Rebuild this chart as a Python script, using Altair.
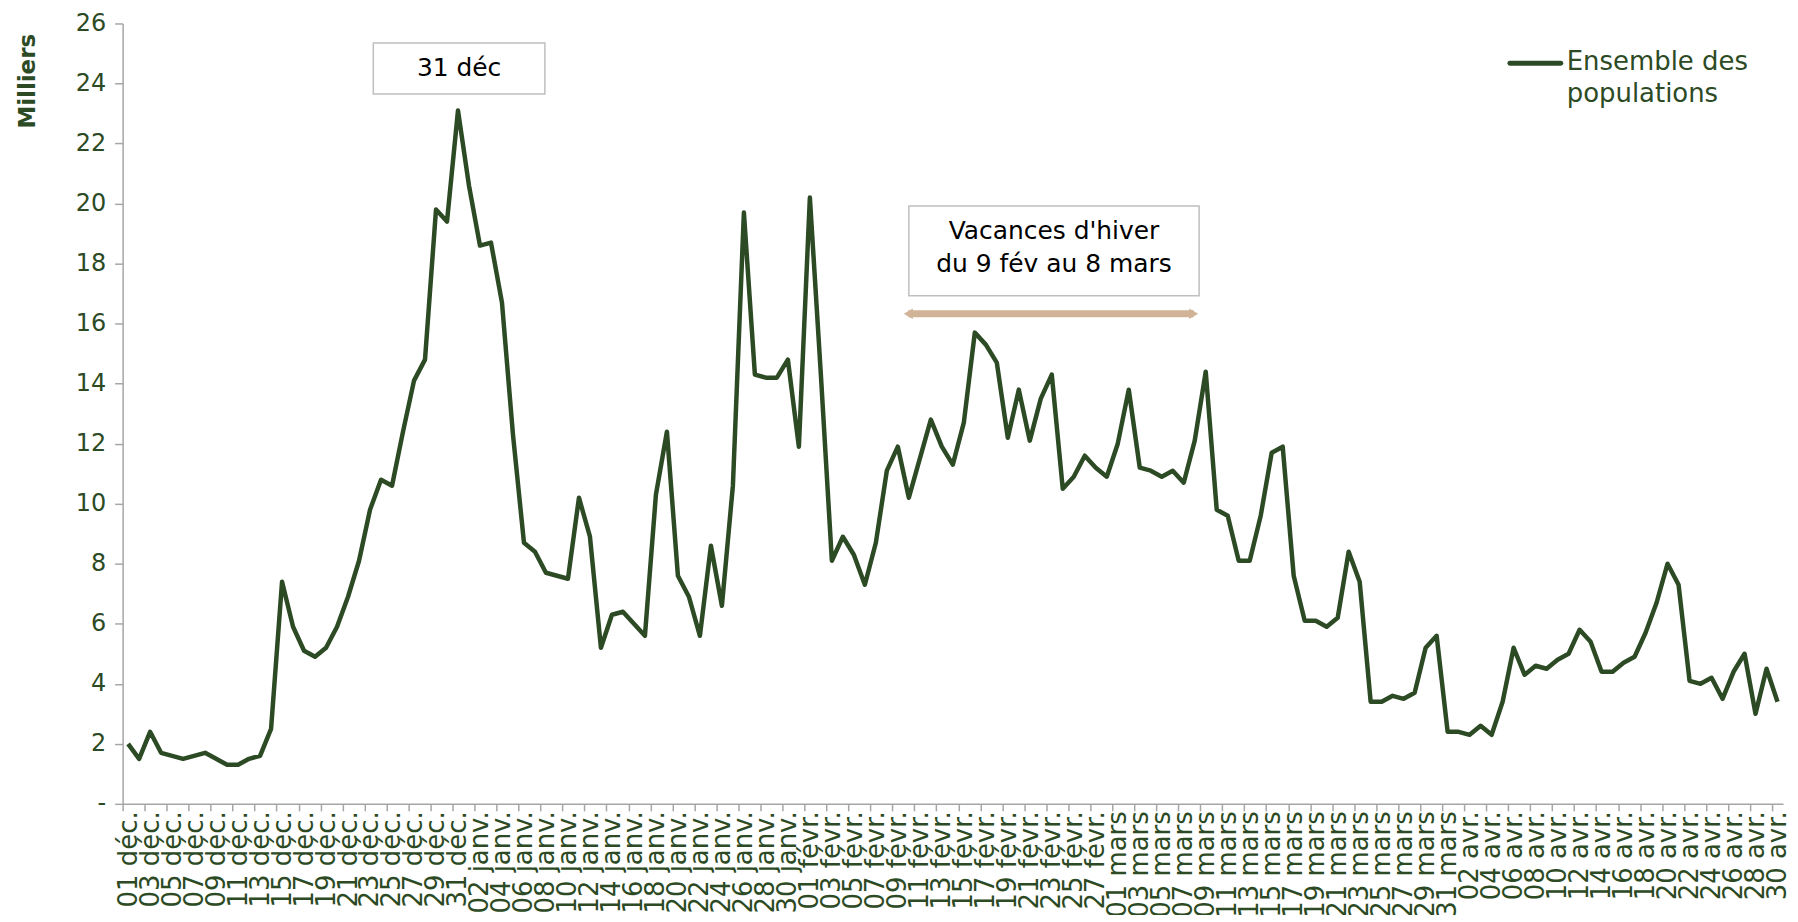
import altair as alt
import pandas as pd

# ---------------- data ----------------
MONTHS = ["déc.", "janv.", "févr.", "mars", "avr."]
MONTH_DAYS = [31, 31, 28, 31, 30]
DAY_LABELS = [f"{d:02d} {m}" for m, n in zip(MONTHS, MONTH_DAYS) for d in range(1, n + 1)]

VALUES = [
    2.0, 1.5, 2.4, 1.7, 1.6, 1.5, 1.6, 1.7, 1.5, 1.3, 1.3, 1.5, 1.6, 2.5, 7.4, 5.9,
    5.1, 4.9, 5.2, 5.9, 6.9, 8.1, 9.8, 10.8, 10.6, 12.4, 14.1, 14.8, 19.8, 19.4, 23.1,
    20.6, 18.6, 18.7, 16.7, 12.3, 8.7, 8.4, 7.7, 7.6, 7.5, 10.2, 8.9, 5.2, 6.3, 6.4,
    6.0, 5.6, 10.3, 12.4, 7.6, 6.9, 5.6, 8.6, 6.6, 10.6, 19.7, 14.3, 14.2, 14.2, 14.8,
    11.9, 20.2, 14.3, 8.1, 8.9, 8.3, 7.3, 8.7, 11.1, 11.9, 10.2, 11.5, 12.8, 11.9, 11.3,
    12.7, 15.7, 15.3, 14.7, 12.2, 13.8, 12.1, 13.5, 14.3, 10.5, 10.9, 11.6, 11.2, 10.9,
    12.0, 13.8, 11.2, 11.1, 10.9, 11.1, 10.7, 12.1, 14.4, 9.8, 9.6, 8.1, 8.1, 9.6, 11.7,
    11.9, 7.6, 6.1, 6.1, 5.9, 6.2, 8.4, 7.4, 3.4, 3.4, 3.6, 3.5, 3.7, 5.2, 5.6, 2.4,
    2.4, 2.3, 2.6, 2.3, 3.4, 5.2, 4.3, 4.6, 4.5, 4.8, 5.0, 5.8, 5.4, 4.4, 4.4, 4.7,
    4.9, 5.7, 6.7, 8.0, 7.3, 4.1, 4.0, 4.2, 3.5, 4.4, 5.0, 3.0, 4.5, 3.4,
]
SERIES_NAME = ["Ensemble des", "populations"]
Y_TICKS = list(range(0, 27, 2))
Y_TITLE = "Milliers"

# annotations (data coordinates: day index / thousands)
BOX_X0 = [22.3, 71.0]
BOX_X1 = [37.9, 97.4]
BOX_Y0 = [23.65, 16.93]
BOX_Y1 = [25.35, 19.92]
NOTE_TEXT = ["31 déc", "Vacances d'hiver", "du 9 fév au 8 mars"]
NOTE_X = [30.1, 84.2, 84.2]
NOTE_Y = [24.5, 19.08, 17.98]
ARROW_X = [70.95, 96.9]
ARROW_Y = 16.33

GREEN = "#2C4A24"
GREY = "#A6A6A6"
TAN = "#D1B497"
FONT = "DejaVu Sans"
NOTE_FONT = "DejaVu Sans"

N = len(VALUES)
W, H = 1666, 783

df = pd.DataFrame({"idx": list(range(N)), "jour": DAY_LABELS, "val": VALUES})
boxes = pd.DataFrame({"x0": BOX_X0, "x1": BOX_X1, "y0": BOX_Y0, "y1": BOX_Y1})
notes = pd.DataFrame({"x": NOTE_X, "y": NOTE_Y, "t": NOTE_TEXT})
arrow = pd.DataFrame({"x0": [ARROW_X[0]], "x1": [ARROW_X[1]], "y": [ARROW_Y]})
heads = pd.DataFrame({"x": ARROW_X, "y": [ARROW_Y, ARROW_Y],
                      "s": ["triangle-left", "triangle-right"]})

xscale = alt.Scale(domain=[-0.5, N - 0.5], nice=False, zero=False)
yscale = alt.Scale(domain=[0, 26], nice=False, zero=True)

label_array = "[" + ",".join("'" + l + "'" for l in DAY_LABELS) + "]"

line = alt.Chart(df).mark_line(color=GREEN, strokeWidth=4.5, strokeJoin="round").encode(
    x=alt.X("idx:Q", scale=xscale, title=None,
            axis=alt.Axis(values=list(range(0, N, 2)), labelExpr=label_array + "[datum.value]",
                          labelAngle=270, labelFont=FONT, labelFontSize=26,
                          labelColor=GREEN, labelPadding=7, ticks=False,
                          domain=False, grid=False, orient="bottom",
                          labelOverlap=False, labelBound=False, labelFlush=False)),
    y=alt.Y("val:Q", scale=yscale,
            axis=alt.Axis(values=Y_TICKS, grid=False, title=Y_TITLE, orient="left",
                          labelExpr="datum.value == 0 ? '-' : datum.label",
                          labelFont=FONT, labelFontSize=24, labelColor=GREEN,
                          labelPadding=9, tickSize=8, tickColor=GREY, tickWidth=1.5,
                          domainColor=GREY, domainWidth=1.5,
                          titleFont=FONT, titleFontSize=23, titleFontWeight="bold",
                          titleColor=GREEN, titleAngle=270, titleAlign="right",
                          titleBaseline="middle", titleX=-95, titleY=10)),
)

# tick-only x axis (ticks at category boundaries every 2 days)
tick_layer = alt.Chart(df).mark_line(opacity=0).encode(
    x=alt.X("idx:Q", scale=xscale, title=None,
            axis=alt.Axis(values=[k - 0.5 for k in range(0, N, 2)], labels=False,
                          tickSize=7, tickColor=GREY, tickWidth=1.5,
                          domain=True, domainColor=GREY, domainWidth=1.5,
                          grid=False, orient="bottom")),
    y=alt.Y("val:Q", scale=yscale, axis=None),
)

box_layer = alt.Chart(boxes).mark_rect(fill="white", stroke="#BFBFBF", strokeWidth=1.5).encode(
    x=alt.X("x0:Q", scale=xscale, axis=None), x2="x1:Q",
    y=alt.Y("y0:Q", scale=yscale, axis=None), y2="y1:Q",
)

note_layer = alt.Chart(notes).mark_text(font=NOTE_FONT, fontSize=25, color="black",
                                        align="center", baseline="middle").encode(
    x=alt.X("x:Q", scale=xscale, axis=None),
    y=alt.Y("y:Q", scale=yscale, axis=None),
    text="t:N",
)

arrow_layer = alt.Chart(arrow).mark_rule(color=TAN, strokeWidth=7).encode(
    x=alt.X("x0:Q", scale=xscale, axis=None), x2="x1:Q",
    y=alt.Y("y:Q", scale=yscale, axis=None),
)

head_layer = alt.Chart(heads).mark_point(filled=True, color=TAN, opacity=1, size=110).encode(
    x=alt.X("x:Q", scale=xscale, axis=None),
    y=alt.Y("y:Q", scale=yscale, axis=None),
    shape=alt.Shape("s:N", scale=None, legend=None),
)

leg = pd.DataFrame({"name": [" ".join(SERIES_NAME)]})
leg_line = alt.Chart(leg).mark_rule(color=GREEN, strokeWidth=5, strokeCap="round").encode(
    x=alt.value(1392), x2=alt.value(1443), y=alt.value(40),
)
leg_text = alt.Chart(leg).mark_text(font=FONT, fontSize=26, color=GREEN, align="left",
                                    baseline="top", lineBreak="|", lineHeight=32).encode(
    x=alt.value(1449), y=alt.value(26),
    text=alt.value("|".join(SERIES_NAME)),
)

chart = alt.layer(
    line, tick_layer, box_layer, note_layer, arrow_layer, head_layer, leg_line, leg_text
).resolve_axis(x="independent", y="independent").properties(
    width=W, height=H,
    autosize=alt.AutoSizeParams(type="none"),
    padding={"left": 115, "top": 14, "right": 7, "bottom": 110},
).configure_view(stroke=None)

chart.save("out.html", embed_options={"renderer": "svg", "actions": False})
